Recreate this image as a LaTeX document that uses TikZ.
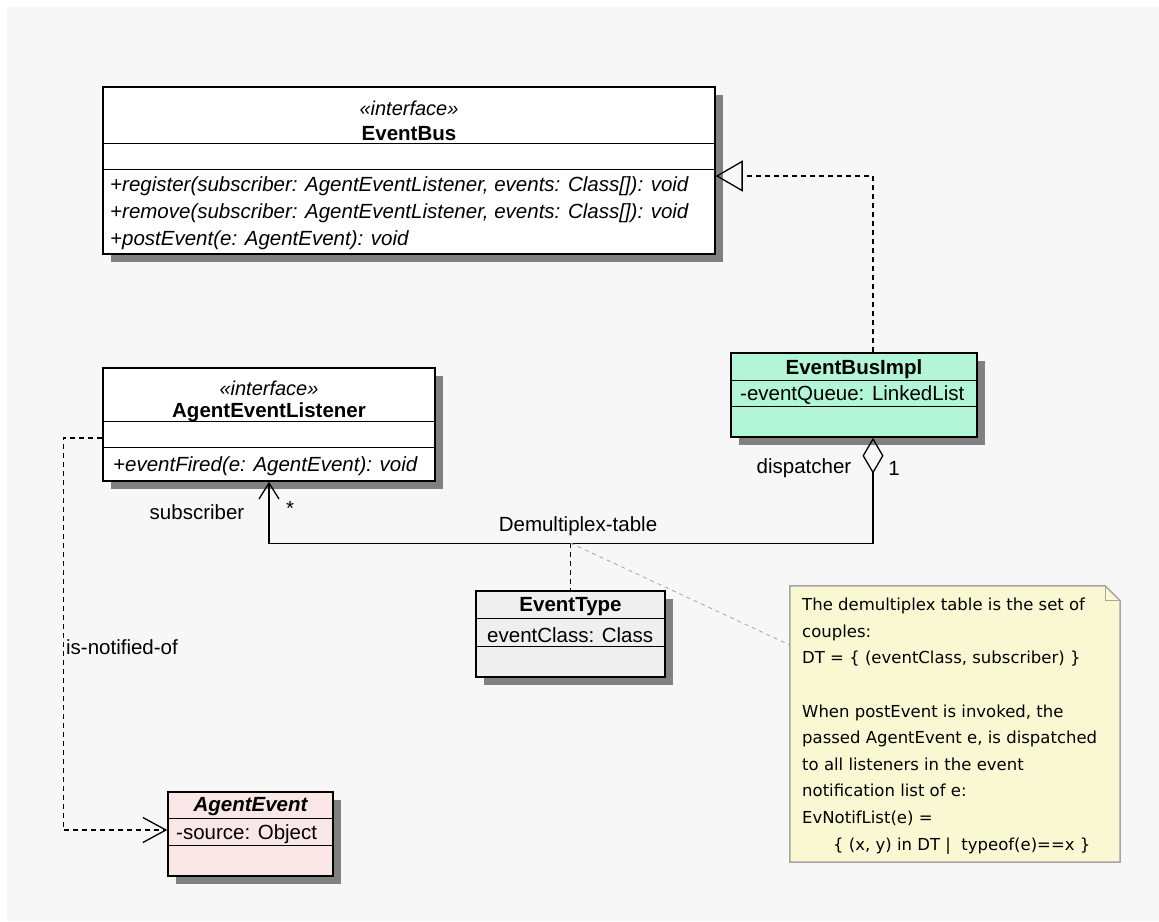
\documentclass[tikz,border=0pt]{standalone}
\usepackage{fontspec}
\setmainfont{Liberation Sans}
\newfontfamily\notefont{DejaVu Sans}
\usetikzlibrary{arrows.meta,shadows}
\definecolor{paper}{RGB}{247,247,247}
\definecolor{shade}{RGB}{128,128,128}
\definecolor{mint}{RGB}{178,246,215}
\definecolor{pale}{RGB}{239,239,239}
\definecolor{blush}{RGB}{249,231,231}
\definecolor{memo}{RGB}{249,248,211}
\definecolor{memoline}{RGB}{165,165,165}
\tikzset{
  every picture/.style={font=\fontsize{20.5}{24}\selectfont},
  cls/.style={draw,line width=1.5pt,inner sep=0pt,
    drop shadow={shadow xshift=8pt,shadow yshift=-8pt,fill=shade,opacity=1}},
  part/.style={line width=1.5pt},
  member/.style={anchor=west,inner sep=0pt},
  abstract/.style={member,font=\fontsize{20.5}{24}\selectfont\itshape},
  title/.style={inner sep=0pt,font=\fontsize{20.5}{24}\selectfont\bfseries},
  stereo/.style={inner sep=0pt,font=\fontsize{20}{24}\selectfont\itshape},
  role/.style={inner sep=0pt},
  link/.style={line width=1.3pt},
  dep/.style={line width=1.3pt,dash pattern=on 5pt off 4pt},
  notelink/.style={line width=0.8pt,memoline,dash pattern=on 4pt off 4pt},
  memobox/.style={fill=memo,draw=memoline,line width=1.5pt},
  memotext/.style={anchor=north west,align=left,inner sep=0pt,
    font=\notefont\fontsize{16.5}{26.6}\selectfont},
}
\begin{document}
\begin{tikzpicture}[x=1pt,y=-1pt]
  \fill[white] (0,0) rectangle (1159,921);
  \fill[paper] (7,7) rectangle (1159,921);
  \useasboundingbox (0,0) rectangle (1159,921);
  % EventBus
  \node[cls,fill=white,minimum width=612pt,minimum height=167pt] (bus) at (409,170.5) {};
  \draw[part] ([yshift=-57pt]bus.north west) -- ([yshift=-57pt]bus.north east);
  \draw[part] ([yshift=-83pt]bus.north west) -- ([yshift=-83pt]bus.north east);
  \node[stereo] (busst) at (409,108) {«interface»};
  \node[title] (busname) at (409,134) {EventBus};
  \node[abstract] (busreg) at (110,186) {+register(subscriber: AgentEventListener, events: Class[]): void};
  \node[abstract] (busrem) at (110,213) {+remove(subscriber: AgentEventListener, events: Class[]): void};
  \node[abstract] (buspost) at (110,240) {+postEvent(e: AgentEvent): void};
  % AgentEventListener
  \node[cls,fill=white,minimum width=332pt,minimum height=113pt] (lis) at (269,424.5) {};
  \draw[part] ([yshift=-54pt]lis.north west) -- ([yshift=-54pt]lis.north east);
  \draw[part] ([yshift=-80pt]lis.north west) -- ([yshift=-80pt]lis.north east);
  \node[stereo] (lisst) at (269,388) {«interface»};
  \node[title] (lisname) at (269,412) {AgentEventListener};
  \node[abstract] (lisfire) at (113,466) {+eventFired(e: AgentEvent): void};
  % EventBusImpl
  \node[cls,fill=mint,minimum width=246pt,minimum height=84pt] (impl) at (854,395) {};
  \draw[part] ([yshift=-28pt]impl.north west) -- ([yshift=-28pt]impl.north east);
  \draw[part] ([yshift=-54pt]impl.north west) -- ([yshift=-54pt]impl.north east);
  \node[title] (implname) at (854,369) {EventBusImpl};
  \node[member] (implqueue) at (740,395) {-eventQueue: LinkedList};
  % EventType
  \node[cls,fill=pale,minimum width=189pt,minimum height=86pt] (etype) at (570.5,634) {};
  \draw[part] ([yshift=-28pt]etype.north west) -- ([yshift=-28pt]etype.north east);
  \draw[part] ([yshift=-56pt]etype.north west) -- ([yshift=-56pt]etype.north east);
  \node[title] (etypename) at (570.5,607) {EventType};
  \node[member] (etypeclass) at (487,635) {eventClass: Class};
  % AgentEvent
  \node[cls,fill=blush,minimum width=165pt,minimum height=84pt] (aevt) at (250.5,834) {};
  \draw[part] ([yshift=-27pt]aevt.north west) -- ([yshift=-27pt]aevt.north east);
  \draw[part] ([yshift=-54pt]aevt.north west) -- ([yshift=-54pt]aevt.north east);
  \node[title,font=\fontsize{20.5}{24}\selectfont\bfseries\itshape] (aevtname) at (250.5,807) {AgentEvent};
  \node[member] (aevtsource) at (176,834) {-source: Object};
  % note
  \node[minimum width=330pt,minimum height=276pt] (note) at (955,724) {};
  \draw[memobox] (note.north west) -- ([xshift=-15pt]note.north east)
    -- ([yshift=-15pt]note.north east) -- (note.south east) -- (note.south west) -- cycle;
  \draw[memoline,line width=1.2pt] ([xshift=-15pt]note.north east) |- ([yshift=-15pt]note.north east);
  \node[memotext] (memotxt) at (802,598) {The demultiplex table is the set of\\
    couples:\\
    DT = \{ (eventClass, subscriber) \}\\[26.6pt]
    When postEvent is invoked, the\\
    passed AgentEvent e, is dispatched\\
    to all listeners in the event\\
    notification list of e:\\
    EvNotifList(e) =\\
    \hspace*{31pt}\{ (x, y) in DT |\ \ typeof(e)==x \}};
  % realization
  \draw[dep,-{Triangle[open,length=27pt,width=31pt,line width=1.3pt]}]
    ([xshift=19pt]impl.north) |- ([yshift=-5.5pt]bus.east);
  % aggregation
  \draw[link,{Diamond[open,length=36pt,width=21pt,line width=1.3pt]}-{Straight Barb[length=16pt,width=20pt,line width=1.3pt]}]
    ([xshift=19pt]impl.south) -- ++(0,106) -| (lis.south);
  \node[role] (dispatcher) at (804,468) {dispatcher};
  \node[role] (one) at (894,468) {1};
  \node[role] (subscriber) at (197,512) {subscriber};
  \node[role] (many) at (290,508) {*};
  \node[role] (demux) at (578,526) {Demultiplex-table};
  % association class
  \coordinate (mid) at (570.5,543);
  \draw[dep] (mid) -- (etype.north);
  \draw[notelink] (mid) -- ([yshift=79pt]note.west);
  % dependency
  \draw[dep,-{Straight Barb[length=23pt,width=25pt,line width=1.3pt]}]
    ([yshift=-13.5pt]lis.west) -- ++(-39,0) |- ([yshift=4pt]aevt.west);
  \node[role] (notified) at (122,647) {is-notified-of};
\end{tikzpicture}
\end{document}
